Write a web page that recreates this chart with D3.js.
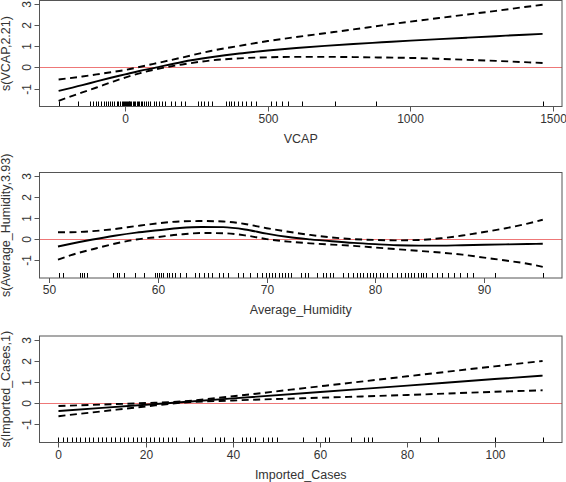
<!DOCTYPE html>
<html><head><meta charset="utf-8">
<script src="https://cdn.jsdelivr.net/npm/d3@7"></script>
<style>body{margin:0;background:#fff}svg{display:block}</style>
</head><body><svg id="c" width="566" height="482"></svg>
<script>
// ---------- Data ----------
const vcapX     = [-233,-150,-100,-50,0,50,100,200,300,400,500,600,700,800,900,1000,1100,1200,1300,1400,1463];
const vcapFit   = [-1.11,-0.84,-0.66,-0.49,-0.33,-0.17,-0.03,0.26,0.48,0.66,0.80,0.92,1.02,1.11,1.19,1.27,1.34,1.41,1.48,1.55,1.59];
const vcapUpper = [-0.57,-0.43,-0.33,-0.23,-0.12,0.02,0.17,0.47,0.78,1.02,1.25,1.44,1.62,1.80,1.99,2.17,2.34,2.51,2.68,2.86,2.97];
const vcapLower = [-1.58,-1.18,-0.95,-0.71,-0.48,-0.28,-0.11,0.14,0.33,0.43,0.48,0.50,0.50,0.49,0.47,0.45,0.41,0.36,0.31,0.25,0.21];
const vcapRug   = [-233,-165,-122,-112,-103,-95,-85,-75,-68,-60,-52,-45,-38,-30,-25,-18,-12,-8,-4,0,3,6,9,12,15,18,22,26,30,35,40,45,50,55,60,65,72,80,88,100,108,118,128,140,160,175,195,210,255,265,275,290,305,355,365,372,380,395,410,425,440,460,510,530,550,570,620,735,880,1465];
const vcapTicks = [0,500,1000,1500];

const humX     = [50.8,52,54,56,58,60,62,64,66,68,70,72,74,76,78,80,82,84,86,88,90,92,94,95.4];
const humFit   = [-0.35,-0.22,-0.02,0.16,0.31,0.42,0.53,0.58,0.57,0.46,0.26,0.10,-0.01,-0.10,-0.18,-0.24,-0.29,-0.31,-0.31,-0.29,-0.27,-0.25,-0.23,-0.22];
const humUpper = [0.33,0.33,0.38,0.48,0.62,0.75,0.84,0.86,0.84,0.72,0.52,0.35,0.20,0.08,0.00,-0.04,-0.06,-0.04,0.04,0.17,0.34,0.52,0.74,0.92];
const humLower = [-0.98,-0.76,-0.48,-0.22,-0.02,0.10,0.22,0.29,0.28,0.18,0.00,-0.12,-0.20,-0.26,-0.32,-0.40,-0.48,-0.56,-0.64,-0.74,-0.88,-1.02,-1.17,-1.32];
const humRug   = [50.9,51.3,52.8,53.0,53.2,53.5,55.9,56.2,56.4,56.9,57.9,58.7,59.7,59.9,60.1,60.3,60.5,60.8,61.0,61.3,61.6,62.0,62.6,63.4,63.8,64.2,64.6,65.0,65.6,66.0,66.4,67.4,67.8,68.5,69.1,69.6,69.9,70.2,70.5,70.8,71.1,71.4,71.7,72.0,72.2,73.2,73.5,73.8,74.6,75.2,75.5,75.8,76.1,77.0,77.5,77.9,78.3,78.6,78.9,79.2,79.5,79.8,80.1,80.4,80.7,81.1,81.5,82.0,82.4,82.7,83.0,83.3,83.6,83.9,84.2,84.4,84.7,85.2,85.7,86.1,86.7,87.2,87.8,88.4,89.0,91.0,95.4];
const humTicks = [50,60,70,80,90];

const casesX     = [0,10,20,28,40,60,80,100,111];
const casesFit   = [-0.37,-0.22,-0.07,0.05,0.23,0.53,0.83,1.14,1.30];
const casesUpper = [-0.13,-0.06,0.01,0.08,0.33,0.80,1.27,1.74,1.99];
const casesLower = [-0.61,-0.38,-0.15,0.02,0.13,0.26,0.39,0.54,0.61];
const casesRug   = [0,1,2,3,4,5,6,7,8,9,10,11,12,13,14,15,16,17,18,19,20,21,22,23,24,25,26,27,30,31,33,36,37,38,40,42,43,44,45,47,48,49,50,56,59,61,62,67,70,71,72,83,87,100,111];
const casesTicks = [0,20,40,60,80,100];

const yTicks = [-1,0,1,2,3];

// ---------- Drawing ----------
const svg = d3.select("#c");
const left = 39.5, right = 562;
const yDomain = [-1.85, 3.17];

const panels = [
  {x: vcapX, fit: vcapFit, up: vcapUpper, lo: vcapLower, rug: vcapRug, ticks: vcapTicks,
   xdom: [-300, 1531], top: 0.5, bottom: 106.5, xlab: "VCAP", ylab: "s(VCAP,2.21)"},
  {x: humX, fit: humFit, up: humUpper, lo: humLower, rug: humRug, ticks: humTicks,
   xdom: [49.1, 97.17], top: 172.5, bottom: 278, xlab: "Average_Humidity", ylab: "s(Average_Humidity,3.93)"},
  {x: casesX, fit: casesFit, up: casesUpper, lo: casesLower, rug: casesRug, ticks: casesTicks,
   xdom: [-4.35, 115.45], top: 336, bottom: 442.5, xlab: "Imported_Cases", ylab: "s(Imported_Cases,1)"}
];

const font = "Liberation Sans, Arial, Helvetica, sans-serif";
const axisCol = "#555", textCol = "#333";

panels.forEach(p => {
  const xs = d3.scaleLinear().domain(p.xdom).range([left, right]);
  const ys = d3.scaleLinear().domain(yDomain).range([p.bottom, p.top]);
  const g = svg.append("g");

  // zero line
  g.append("line").attr("x1", left).attr("x2", right)
    .attr("y1", Math.round(ys(0)) + 0.5).attr("y2", Math.round(ys(0)) + 0.5)
    .attr("stroke", "#ee7777").attr("stroke-width", 1);

  // rug
  g.selectAll(".rug").data(p.rug).enter().append("line")
    .attr("x1", d => Math.round(xs(d)) + 0.5).attr("x2", d => Math.round(xs(d)) + 0.5)
    .attr("y1", p.bottom).attr("y2", p.bottom - 5)
    .attr("stroke", "#000").attr("stroke-width", 1);

  const pts = (arr) => p.x.map((v, i) => [v, arr[i]]);
  const line = d3.line().x(d => xs(d[0])).y(d => ys(d[1])).curve(d3.curveMonotoneX);

  g.append("path").attr("d", line(pts(p.fit))).attr("fill", "none")
    .attr("stroke", "#000").attr("stroke-width", 1.9);
  [p.up, p.lo].forEach(arr => {
    g.append("path").attr("d", line(pts(arr))).attr("fill", "none")
      .attr("stroke", "#000").attr("stroke-width", 1.9).attr("stroke-dasharray", "7,4.5");
  });

  // box
  g.append("rect").attr("x", left).attr("y", p.top)
    .attr("width", right - left).attr("height", p.bottom - p.top)
    .attr("fill", "none").attr("stroke", axisCol).attr("stroke-width", 1);

  // x axis ticks
  p.ticks.forEach(t => {
    const x = Math.round(xs(t)) + 0.5;
    g.append("line").attr("x1", x).attr("x2", x).attr("y1", p.bottom).attr("y2", p.bottom + 5)
      .attr("stroke", axisCol);
    g.append("text").attr("x", x).attr("y", p.bottom + 16).attr("text-anchor", "middle")
      .attr("font-family", font).attr("font-size", 12).attr("fill", textCol).text(t);
  });
  // y axis ticks
  yTicks.forEach(t => {
    const y = Math.round(ys(t)) + 0.5;
    g.append("line").attr("x1", left - 5).attr("x2", left).attr("y1", y).attr("y2", y)
      .attr("stroke", axisCol);
    g.append("text").attr("transform", `translate(30.5,${y}) rotate(-90)`)
      .attr("text-anchor", "middle").attr("font-family", font).attr("font-size", 12)
      .attr("fill", textCol).text(t);
  });
  // titles
  g.append("text").attr("x", (left + right) / 2).attr("y", p.bottom + 36)
    .attr("text-anchor", "middle").attr("font-family", font).attr("font-size", 12.5)
    .attr("fill", textCol).text(p.xlab);
  g.append("text").attr("transform", `translate(10,${(p.top + p.bottom) / 2}) rotate(-90)`)
    .attr("text-anchor", "middle").attr("font-family", font).attr("font-size", 12.5)
    .attr("fill", textCol).text(p.ylab);
});
</script></body></html>
